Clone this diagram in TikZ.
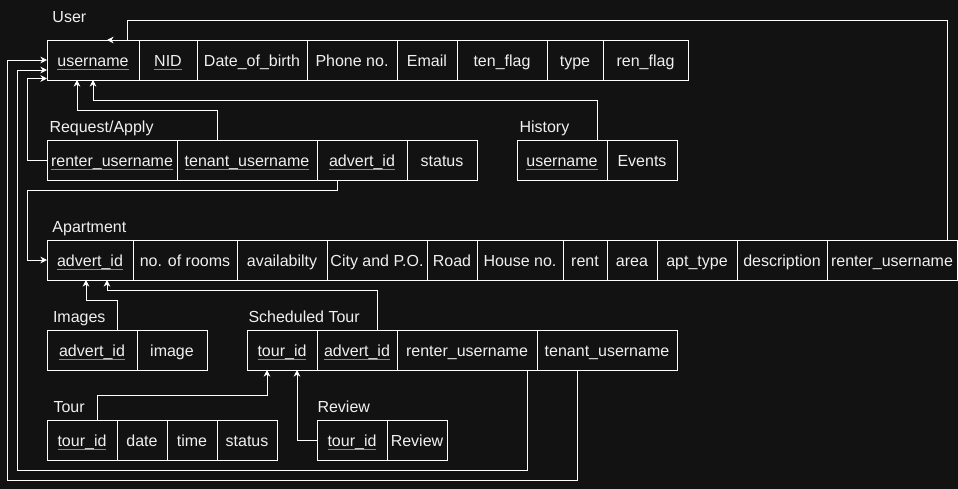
\documentclass[tikz,border=0pt]{standalone}
\usepackage{fontspec}
\setmainfont{Liberation Sans}
\usepackage{xcolor}
\usetikzlibrary{arrows.meta,calc,positioning}
\definecolor{bgdark}{HTML}{121212}
\definecolor{ulgray}{HTML}{8C8C8C}
\definecolor{txtlight}{HTML}{F0F0F0}
\newcommand{\keyattr}[1]{\setbox0\hbox{#1}\rlap{\color{ulgray}\rule[-2.6pt]{\wd0}{1.2pt}}\box0}
\tikzset{%
	cell/.style  = {draw=white, rectangle, minimum width={#1*0.75pt}, minimum height=30pt, inner sep=0pt, outer sep=0pt, text=txtlight, text height=10pt, text depth=0pt, text centered},
	title/.style = {text=txtlight, anchor=base west, inner sep=0pt},
	fk/.style    = {draw=white, -{Stealth[length=5pt,width=5pt]}},
}
\begin{document}
\begin{tikzpicture}[x=0.75pt, y=-0.75pt, line width=0.75pt, font=\fontsize{12pt}{14pt}\selectfont]
	\fill[bgdark] (0,0) rectangle (958,489);
	\useasboundingbox (0,0) rectangle (958,489);
	\node[title] (tuser) at (52,22) {User};
	\node[cell=92, anchor=north west] (u1) at (47,40) {\keyattr{username}};
	\node[cell=58, right=0pt of u1] (u2) {\keyattr{NID}};
	\node[cell=110, right=0pt of u2] (u3) {Date\_of\_birth};
	\node[cell=90, right=0pt of u3] (u4) {Phone no.};
	\node[cell=60, right=0pt of u4] (u5) {Email};
	\node[cell=90, right=0pt of u5] (u6) {ten\_flag};
	\node[cell=56, right=0pt of u6] (u7) {type};
	\node[cell=85, right=0pt of u7] (u8) {ren\_flag};
	\node[title] (treq) at (49,132) {Request/Apply};
	\node[cell=130, anchor=north west] (r1) at (47,140) {\keyattr{renter\_username}};
	\node[cell=140, right=0pt of r1] (r2) {\keyattr{tenant\_username}};
	\node[cell=90, right=0pt of r2] (r3) {\keyattr{advert\_id}};
	\node[cell=70, right=0pt of r3] (r4) {status};
	\node[title] (thist) at (519,132) {History};
	\node[cell=90, anchor=north west] (h1) at (517,140) {\keyattr{username}};
	\node[cell=70, right=0pt of h1] (h2) {Events};
	\node[title] (tapt) at (52,232) {Apartment};
	\node[cell=86, anchor=north west] (a1) at (47,240) {\keyattr{advert\_id}};
	\node[cell=104, right=0pt of a1] (a2) {no. of rooms};
	\node[cell=90, right=0pt of a2] (a3) {availabilty};
	\node[cell=100, right=0pt of a3] (a4) {City and P.O.};
	\node[cell=50, right=0pt of a4] (a5) {Road};
	\node[cell=86, right=0pt of a5] (a6) {House no.};
	\node[cell=44, right=0pt of a6] (a7) {rent};
	\node[cell=50, right=0pt of a7] (a8) {area};
	\node[cell=80, right=0pt of a8] (a9) {apt\_type};
	\node[cell=90, right=0pt of a9] (a10) {description};
	\node[cell=130, right=0pt of a10] (a11) {renter\_username};
	\node[title] (timg) at (52.5,322) {Images};
	\node[cell=90, anchor=north west] (i1) at (47,330) {\keyattr{advert\_id}};
	\node[cell=70, right=0pt of i1] (i2) {image};
	\node[title] (tsched) at (248,322) {Scheduled Tour};
	\node[cell=70, anchor=north west] (s1) at (247,330) {\keyattr{tour\_id}};
	\node[cell=80, right=0pt of s1] (s2) {\keyattr{advert\_id}};
	\node[cell=140, right=0pt of s2] (s3) {renter\_username};
	\node[cell=140, right=0pt of s3] (s4) {tenant\_username};
	\node[title] (ttour) at (53,412) {Tour};
	\node[cell=70, anchor=north west] (t1) at (47,420) {\keyattr{tour\_id}};
	\node[cell=50, right=0pt of t1] (t2) {date};
	\node[cell=50, right=0pt of t2] (t3) {time};
	\node[cell=60, right=0pt of t3] (t4) {status};
	\node[title] (trev) at (317,412) {Review};
	\node[cell=70, anchor=north west] (v1) at (317,420) {\keyattr{tour\_id}};
	\node[cell=60, right=0pt of v1] (v2) {Review};
	\draw[fk] ($(a11.north east)+(-10,0)$) |- ($(u1.north east)+(-12,-20)$) -- ($(u1.north east)+(-12,0)$) -- ($(u1.north west)+(60,0)$);
	\draw[fk] ($(s4.south west)+(40,0)$) -- ++(0,110) -| ($(u1.west)+(-40,0)$) -- (u1.west);
	\draw[fk] ($(s3.south east)+(-10,0)$) -- ++(0,100) -| ($(u1.west)+(-30,10)$) -- ($(u1.west)+(0,10)$);
	\draw[fk] (r1.west) -- ++(-20,0) |- ($(u1.south west)+(0,-1.5)$);
	\draw[fk] ($(r2.north west)+(40,0)$) -- ++(0,-30) -| ($(u1.south west)+(30,0)$);
	\draw[fk] ($(h1.north east)+(-10,0)$) -- ++(0,-40) -| (u1.south);
	\draw[fk] ($(r3.south west)+(20,0)$) -- ++(0,10) -| ($(a1.west)+(-20,0)$) -- (a1.west);
	\draw[fk] ($(i1.north east)+(-20,0)$) -- ++(0,-30) -| ($(a1.south west)+(39,0)$);
	\draw[fk] ($(s2.north east)+(-20,0)$) -- ++(0,-40) -| ($(a1.south west)+(60,0)$);
	\draw[fk] ($(t1.north west)+(50,0)$) -- ++(0,-25) -| ($(s1.south west)+(20,0)$);
	\draw[fk] (v1.west) -| ($(s1.south west)+(50,0)$);
\end{tikzpicture}
\end{document}
